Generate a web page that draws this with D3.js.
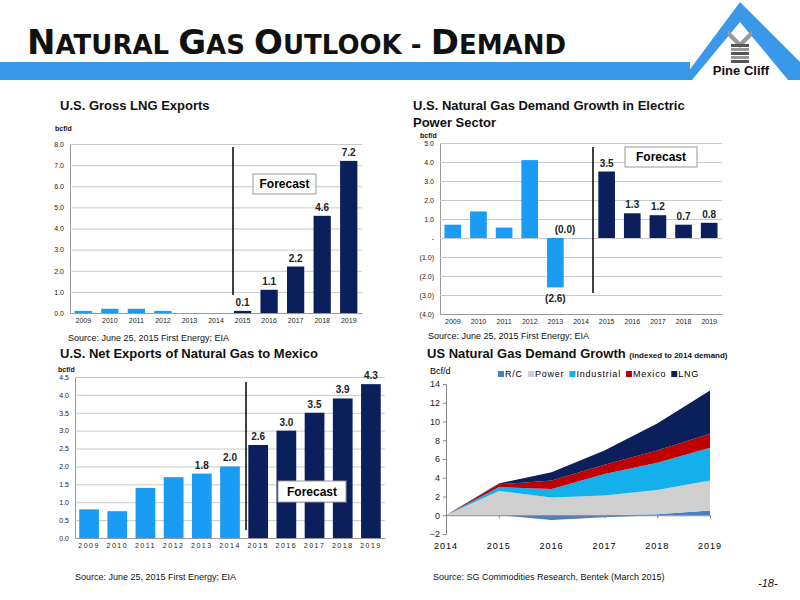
<!DOCTYPE html><html><head><meta charset="utf-8"><script src="https://cdn.jsdelivr.net/npm/d3@7"></script>
<style>body{margin:0;background:#fff}svg{font-family:Arial,"Liberation Sans",sans-serif}</style></head><body>
<svg id="s" width="800" height="600"></svg>
<script>
const years=["2009","2010","2011","2012","2013","2014","2015","2016","2017","2018","2019"];
const lngExports=[0.1,0.2,0.2,0.1,0,0,0.1,1.1,2.2,4.6,7.2];
const lngLabels=["","","","","","","0.1","1.1","2.2","4.6","7.2"];
const powerGrowth=[0.7,1.4,0.55,4.1,-2.6,-0.01,3.5,1.3,1.2,0.7,0.8];
const powerLabels=["","","","","(2.6)","(0.0)","3.5","1.3","1.2","0.7","0.8"];
const mexico=[0.8,0.75,1.4,1.7,1.8,2.0,2.6,3.0,3.5,3.9,4.3];
const mexicoLabels=["","","","","1.8","2.0","2.6","3.0","3.5","3.9","4.3"];
const aYears=[2014,2015,2016,2017,2018,2019];
const rc=[0,0,-0.5,-0.2,0.1,0.5];
const power=[0,2.6,1.9,2.1,2.6,3.2];
const industrial=[0,0.4,0.9,2.3,2.9,3.5];
const mexicoD=[0,0.3,0.9,1.0,1.3,1.5];
const lng=[0,0.1,0.9,1.5,2.9,4.6];
const seriesNames=["R/C","Power","Industrial","Mexico","LNG"];
const seriesColors=["#4a7fc1","#cfcfcf","#14b0ec","#c00000","#0b1f5a"];
const LB="#1a9cf5",DB="#0b1f5c";
const svg=d3.select("#s");

// header
svg.append("rect").attr("x",0).attr("y",62).attr("width",690).attr("height",18).attr("fill","#3a98ea");
svg.append("path").attr("d","M682,80 L740,2 L800,62 V80 H788 L740,22 L692,80Z").attr("fill","#3a98ea");
svg.append("path").attr("d","M728,30 L740,42 L752,30 L752,36 L740,48 L728,36Z").attr("fill","#999");
for(let i=0;i<5;i++) svg.append("rect").attr("x",731).attr("y",44+i*4).attr("width",18).attr("height",3).attr("fill",i%2?"#999":"#555");
svg.append("text").attr("x",741).attr("y",75).attr("text-anchor","middle").attr("font-size",13).attr("font-weight","bold").attr("fill","#111").text("Pine Cliff");
const t=svg.append("text").attr("x",27).attr("y",54).attr("font-weight","bold").attr("fill","#111").attr("font-family","Verdana,DejaVu Sans,sans-serif");
[["N",34],["ATURAL ",26],["G",34],["AS ",26],["O",34],["UTLOOK - ",26],["D",34],["EMAND",26]].forEach(([s,f])=>t.append("tspan").attr("font-size",f).text(s));

function bars(o){
  const g=svg.append("g");
  const x=d3.scaleBand().domain(years).range([o.x0,o.x1]).paddingInner(o.pad).paddingOuter(o.pad/2);
  const y=d3.scaleLinear().domain(o.dom).range([o.yb,o.yt]);
  g.append("g").attr("transform",`translate(${o.x0},0)`).call(d3.axisLeft(y).tickValues(o.ticks).tickSize(-(o.x1-o.x0)).tickFormat(o.fmt))
   .call(a=>{a.select(".domain").attr("stroke","#999");a.selectAll(".tick line").attr("stroke","#c8c8c8");a.selectAll("text").attr("font-size",o.fs).attr("fill","#222").attr("x",-6)});
  g.append("g").attr("transform",`translate(0,${o.yb})`).call(d3.axisBottom(x).tickSize(0))
   .call(a=>{a.select(".domain").attr("stroke","#999");a.selectAll("text").attr("font-size",o.fs).attr("fill","#222").attr("dy","1em").attr("letter-spacing",o.ls||0)});
  if(o.zero!==undefined) g.append("line").attr("x1",o.x0).attr("x2",o.x1).attr("y1",y(0)).attr("y2",y(0)).attr("stroke","#999");
  g.selectAll("rect.b").data(o.vals).join("rect").attr("x",(d,i)=>x(years[i])).attr("width",x.bandwidth())
   .attr("y",d=>y(Math.max(0,d))).attr("height",d=>Math.abs(y(d)-y(0))).attr("fill",(d,i)=>i<6?LB:DB);
  g.selectAll("text.l").data(o.vals).join("text").attr("x",(d,i)=>x(years[i])+x.bandwidth()/2+(o.lx&&o.lx[i]||0))
   .attr("y",(d,i)=>d<-0.5?y(d)+15:y(d)-5).attr("text-anchor","middle").attr("font-size",10).attr("font-weight","bold").attr("fill","#222").text((d,i)=>o.labels[i]);
  g.append("line").attr("x1",o.vx).attr("x2",o.vx).attr("y1",o.vy[0]).attr("y2",o.vy[1]).attr("stroke","#000").attr("stroke-width",1.5);
  g.append("rect").attr("x",o.fb[0]).attr("y",o.fb[1]).attr("width",o.fb[2]).attr("height",o.fb[3]).attr("fill","#fff").attr("stroke","#999");
  g.append("text").attr("x",o.fb[0]+o.fb[2]/2).attr("y",o.fb[1]+o.fb[3]/2+4).attr("text-anchor","middle").attr("font-size",12).attr("font-weight","bold").text("Forecast");
}
const f1=d=>d.toFixed(1);
bars({x0:70,x1:362,yb:313,yt:144,dom:[0,8],ticks:d3.range(0,8.1,1),fmt:f1,fs:7,pad:0.35,vals:lngExports,labels:lngLabels,vx:233,vy:[147,295],fb:[253,174,63,20]});
bars({x0:440,x1:722,yb:314,yt:143,dom:[-4,5],ticks:d3.range(-4,5.1,1),fmt:d=>d===0?"-":d<0?`(${(-d).toFixed(1)})`:d.toFixed(1),fs:7,pad:0.35,vals:powerGrowth,labels:powerLabels,lx:[0,0,0,0,0,-16,0,0,0,0,0],vx:593,vy:[147,293],fb:[625,147,72,20]});
bars({x0:75,x1:385,yb:538,yt:377,dom:[0,4.5],ticks:d3.range(0,4.51,0.5),fmt:f1,fs:7,pad:0.3,vals:mexico,labels:mexicoLabels,vx:246,vy:[382,530],fb:[278,481,68,21],ls:1.5});

// area chart
{
 const x=d3.scaleLinear().domain([2014,2019]).range([446,710]);
 const y=d3.scaleLinear().domain([-2,14]).range([534,384]);
 const rows=aYears.map((yr,i)=>({yr,"R/C":rc[i],Power:power[i],Industrial:industrial[i],Mexico:mexicoD[i],LNG:lng[i]}));
 const st=d3.stack().keys(seriesNames).offset(d3.stackOffsetDiverging)(rows);
 const ar=d3.area().x(d=>x(d.data.yr)).y0(d=>y(d[0])).y1(d=>y(d[1]));
 svg.append("g").selectAll("path").data(st).join("path").attr("d",ar).attr("fill",(d,i)=>seriesColors[i]);
 svg.append("g").attr("transform","translate(446,0)").call(d3.axisLeft(y).tickValues(d3.range(-2,14.1,2)).tickSize(3))
  .call(a=>{a.select(".domain").attr("stroke","#888");a.selectAll("line").attr("stroke","#888");a.selectAll("text").attr("font-size",9).attr("fill","#222")});
 svg.append("g").attr("transform",`translate(0,${y(0)})`).call(d3.axisBottom(x).tickValues(aYears).tickSize(3).tickFormat(d=>""))
  .call(a=>{a.select(".domain").attr("stroke","#888");a.selectAll("line").attr("stroke","#888")});
 svg.append("g").selectAll("text").data(aYears).join("text").attr("x",d=>x(d)).attr("y",549).attr("text-anchor","middle").attr("font-size",9).attr("letter-spacing",1).text(d=>d);
 svg.append("text").attr("x",430).attr("y",374).attr("font-size",9).text("Bcf/d");
 const lg=svg.append("g");let lx=498;
 seriesNames.forEach((n,i)=>{lg.append("rect").attr("x",lx).attr("y",371).attr("width",6).attr("height",6).attr("fill",seriesColors[i]);
  const tx=lg.append("text").attr("x",lx+7).attr("y",377).attr("font-size",9).attr("letter-spacing",0.8).text(n);lx+=tx.node().getComputedTextLength()+12;});
}

const T=(x,y,s,f,b)=>svg.append("text").attr("x",x).attr("y",y).attr("font-size",f).attr("font-weight",b?"bold":"normal").attr("fill","#111").text(s);
T(60,110,"U.S. Gross LNG Exports",13,1);
T(55,131,"bcf/d",7,1);
T(413,110,"U.S. Natural Gas Demand Growth in Electric",13,1);
T(413,127,"Power Sector",13,1);
T(420,138,"bcf/d",7,1);
T(60,358,"U.S. Net Exports of Natural Gas to Mexico",13,1);
T(58,372,"bcf/d",7,1);
const tt=T(427,358,"US Natural Gas Demand Growth ",13,1);
tt.append("tspan").attr("font-size",8).text("(indexed to 2014 demand)");
T(68,341,"Source: June 25, 2015  First Energy; EIA",9,0);
T(428,339,"Source: June 25, 2015 First Energy; EIA",9,0);
T(75,580,"Source: June 25, 2015 First Energy; EIA",9,0);
T(433,580,"Source: SG Commodities Research, Bentek (March 2015)",9,0);
T(758,587,"-18-",11,0).attr("font-style","italic");
</script></body></html>
